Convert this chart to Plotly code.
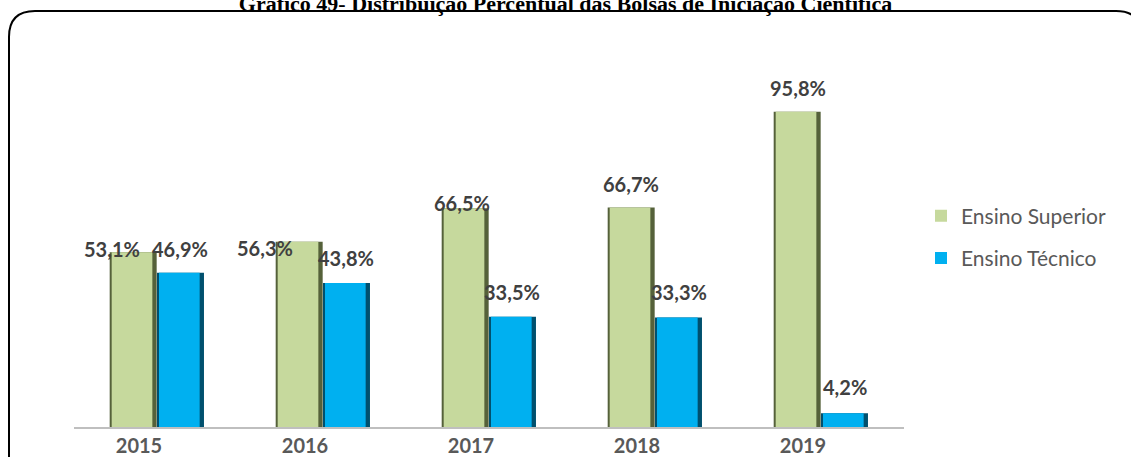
import plotly.graph_objects as go

# data
anos = ['2015', '2016', '2017', '2018', '2019']
ensino_superior = [53.1, 56.3, 66.5, 66.7, 95.8]
ensino_tecnico = [46.9, 43.8, 33.5, 33.3, 4.2]
series_names = ['Ensino Superior', 'Ensino Técnico']
titulo = 'Gráfico 49- Distribuição Percentual das Bolsas de Iniciação Científica'

# label nudges (px) to mimic the hand-placed Excel labels
sup_shift_x = [-45, -58, -27, -24, -23]
sup_shift_y = [3, -6, 5, 24, 24]
tec_shift_x = [23, 23, 23, 24, 24]
tec_shift_y = [24, 25, 25, 25, 26]

W, H = 1131, 457
L, R, T, B = 74, 904, 98, 427


def px(x):
    return (x - L) / (R - L)


def py(y):
    return (B - y) / (B - T)


def fmt(v):
    return f'{v:.1f}'.replace('.', ',') + '%'


fig = go.Figure()

# bar pairs: dark "edge" bar behind, main colour on top, for a bevel-ish look
bar_w = 0.283
for vals, off, edge, main, name in [
    (ensino_superior, -0.285, '#55613a', '#c6d99d', series_names[0]),
    (ensino_tecnico, 0.0, '#00506e', '#00b0f0', series_names[1]),
]:
    fig.add_trace(go.Bar(
        x=anos, y=vals, offset=off, width=bar_w,
        marker=dict(color=edge, line=dict(width=0)),
        showlegend=False, hoverinfo='skip', legendgroup=name,
    ))
    fig.add_trace(go.Bar(
        x=anos, y=vals, offset=off + 0.012, width=bar_w - 0.038,
        marker=dict(color=main, line=dict(width=0)),
        name=name, legendgroup=name,
    ))

# data labels (category index for x, as year strings read as numbers)
for vals, sx, sy in [(ensino_superior, sup_shift_x, sup_shift_y),
                     (ensino_tecnico, tec_shift_x, tec_shift_y)]:
    for i, (v, dx, dy) in enumerate(zip(vals, sx, sy)):
        fig.add_annotation(
            x=i, y=v, text=fmt(v), showarrow=False,
            xshift=dx, yshift=dy, yanchor='middle', xanchor='center',
            font=dict(family='Lato', size=20, color='#404040', weight='bold'),
        )

# rounded frame round the chart (bottom runs off the picture)
x0, x1, y0, y1, r = 9, 1142, 11, 490, 26
path = (f'M {px(x0)},{py(y1)} L {px(x0)},{py(y0 + r)} '
        f'Q {px(x0)},{py(y0)} {px(x0 + r)},{py(y0)} '
        f'L {px(x1 - r)},{py(y0)} '
        f'Q {px(x1)},{py(y0)} {px(x1)},{py(y0 + r)} '
        f'L {px(x1)},{py(y1)}')
fig.add_shape(type='path', path=path, xref='paper', yref='paper',
              line=dict(color='black', width=2), layer='below')

fig.update_layout(
    width=W, height=H,
    margin=dict(l=L, r=W - R, t=T, b=H - B, autoexpand=False),
    paper_bgcolor='white', plot_bgcolor='white',
    barmode='overlay',
    title=dict(text=titulo, x=0.5, xanchor='center', y=1 - 3 / H, yanchor='middle',
               font=dict(family='Liberation Serif', size=22, color='black', weight='bold')),
    xaxis=dict(type='category', range=[-0.5, 4.5], showline=True, linecolor='#bfbfbf',
               linewidth=2, ticks='', showgrid=False, zeroline=False, ticklabelshift=-18,
               tickfont=dict(family='Lato', size=20, color='#595959', weight='bold')),
    yaxis=dict(visible=False, range=[0, 100]),
    legend=dict(x=px(921), xanchor='left', y=py(237), yanchor='middle',
                traceorder='grouped', tracegroupgap=12, itemwidth=30,
                font=dict(family='Lato', size=21, color='#595959')),
    showlegend=True,
)

fig.write_html('out.html', config={'displayModeBar': False},
               post_script="document.body.style.margin='0';")
